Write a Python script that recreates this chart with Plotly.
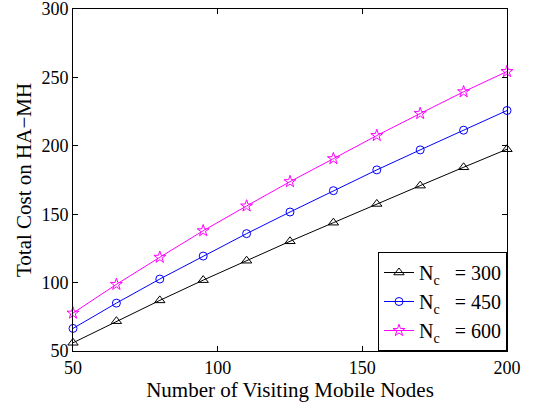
import plotly.graph_objects as go

# Number of visiting mobile nodes
nodes = [50, 65, 80, 95, 110, 125, 140, 155, 170, 185, 200]

# Total cost on HA-MH for each call-count setting
cost_nc300 = [56.0, 71.8, 87.0, 101.8, 116.0, 130.2, 143.8, 157.5, 170.9, 184.3, 197.5]
cost_nc450 = [66.5, 85.0, 102.6, 119.4, 135.8, 151.6, 167.2, 182.4, 197.0, 211.4, 225.8]
cost_nc600 = [77.7, 98.7, 118.5, 137.9, 156.0, 173.8, 190.6, 207.5, 223.6, 239.5, 254.3]

series = [
    ("N<sub>c</sub>   = 300", cost_nc300, "black", "triangle-up-open", 9),
    ("N<sub>c</sub>   = 450", cost_nc450, "blue", "circle-open", 8),
    ("N<sub>c</sub>   = 600", cost_nc600, "magenta", "star-open", 9),
]

x_ticks = [50, 100, 150, 200]
y_ticks = [50, 100, 150, 200, 250, 300]

fig = go.Figure()
for name, ys, color, symbol, msize in series:
    fig.add_trace(go.Scatter(
        x=nodes, y=ys, name=name, mode="lines+markers",
        line=dict(color=color, width=1),
        marker=dict(symbol=symbol, size=msize, color=color,
                    line=dict(color=color, width=1)),
        cliponaxis=False,
    ))

family = "Liberation Serif, Times New Roman, serif"
tick_font = dict(family=family, size=18, color="black")
title_font = dict(family=family, size=21, color="black")
legend_font = dict(family=family, size=20, color="black")

axis_common = dict(
    showgrid=False, zeroline=False, showline=True, linecolor="black",
    linewidth=1, mirror="ticks", ticks="inside", ticklen=5,
    tickcolor="black", tickfont=tick_font, ticklabeloverflow="allow",
    automargin=False,
)

fig.update_layout(
    width=535, height=403,
    margin=dict(l=73, r=28, t=9, b=52, autoexpand=False),
    paper_bgcolor="white", plot_bgcolor="white",
    font=tick_font,
    showlegend=True,
    legend=dict(
        x=1, y=0, xanchor="right", yanchor="bottom",
        bordercolor="black", borderwidth=1, bgcolor="white",
        font=legend_font, tracegroupgap=0,
    ),
    xaxis=dict(range=[50, 200], tickmode="array", tickvals=x_ticks,
               title=dict(text="Number of Visiting Mobile Nodes", font=title_font, standoff=0),
               **axis_common),
    yaxis=dict(range=[50, 300], tickmode="array", tickvals=y_ticks,
               title=dict(text="Total Cost on HA\u2212MH", font=title_font, standoff=4),
               **axis_common),
)

fig.write_html("out.html")
